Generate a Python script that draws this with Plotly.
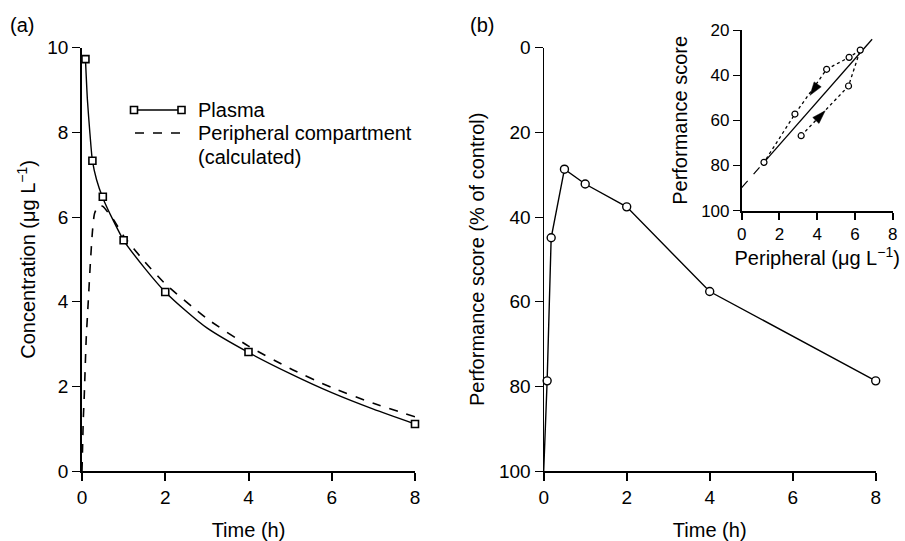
import plotly.graph_objects as go

W, H = 905, 541
FONT = "Liberation Sans, Arial, sans-serif"

# ---------- data ----------
# Panel (a): plasma concentration (observed)
plasma_t = [0.083, 0.25, 0.5, 1, 2, 4, 8]
plasma_c = [9.73, 7.33, 6.48, 5.45, 4.23, 2.81, 1.11]
# Panel (a): fitted plasma curve
fit_t = [0.083, 0.13, 0.19, 0.25, 0.35, 0.5, 0.75, 1, 1.5, 2, 2.5, 3, 4, 5, 6, 7, 8]
fit_c = [9.73, 8.77, 7.98, 7.33, 6.88, 6.45, 5.92, 5.45, 4.8, 4.23, 3.78, 3.38, 2.8, 2.3, 1.85, 1.46, 1.11]
# Panel (a): peripheral compartment (calculated)
per_t = [0, 0.015, 0.03, 0.055, 0.1, 0.15, 0.2, 0.25, 0.3, 0.4, 0.5, 0.75, 1, 1.5, 2, 3, 4, 5, 6, 7, 8]
per_c = [0, 0.6, 1.2, 1.8, 3.1, 4.0, 4.9, 5.65, 6.08, 6.28, 6.25, 5.95, 5.55, 4.95, 4.42, 3.6, 2.95, 2.42, 1.97, 1.6, 1.28]

# Panel (b): performance score (% of control)
b_time = [0, 0.083, 0.18, 0.5, 1, 2, 4, 8]
b_score = [100, 78.7, 44.9, 28.7, 32.2, 37.6, 57.6, 78.7]

# Inset: performance vs peripheral concentration
up_x = [3.15, 5.66, 6.28]                 # rising branch
up_y = [66.8, 44.8, 28.9]
down_x = [6.28, 5.69, 4.5, 2.82, 1.18]    # falling branch
down_y = [28.9, 32.1, 37.4, 57.2, 78.6]
reg_x = [1.18, 6.91]
reg_y = [78.6, 24.1]
ext_x = [0, 1.18]
ext_y = [89.8, 78.6]
# arrowheads on the branches
arrow_x = [3.62, 4.42]
arrow_y = [48.9, 55.8]

ticks_time = [0, 2, 4, 6, 8]
ticks_conc = [0, 2, 4, 6, 8, 10]
ticks_score = [0, 20, 40, 60, 80, 100]
ticks_inset_y = [20, 40, 60, 80, 100]

# ---------- helpers ----------
def pxx(x):
    return x / W

def pxy(y):
    return 1 - y / H

fig = go.Figure()

# panel a
fig.add_trace(go.Scatter(x=per_t, y=per_c, mode="lines",
                         line=dict(color="black", width=1.6, dash="dash", shape="spline", smoothing=0.5),
                         xaxis="x", yaxis="y", showlegend=False, cliponaxis=False))
fig.add_trace(go.Scatter(x=fit_t, y=fit_c, mode="lines",
                         line=dict(color="black", width=1.4, shape="spline", smoothing=0.6),
                         xaxis="x", yaxis="y", showlegend=False, cliponaxis=False))
fig.add_trace(go.Scatter(x=plasma_t, y=plasma_c, mode="markers",
                         marker=dict(symbol="square", size=7, color="white", line=dict(color="black", width=1.6)),
                         xaxis="x", yaxis="y", showlegend=False, cliponaxis=False))

# panel b
fig.add_trace(go.Scatter(x=b_time, y=b_score, mode="lines", line=dict(color="black", width=1.4),
                         xaxis="x2", yaxis="y2", showlegend=False, cliponaxis=False))
fig.add_trace(go.Scatter(x=b_time[1:], y=b_score[1:], mode="markers",
                         marker=dict(symbol="circle", size=8, color="white", line=dict(color="black", width=1.4)),
                         xaxis="x2", yaxis="y2", showlegend=False, cliponaxis=False))

# inset
fig.add_trace(go.Scatter(x=ext_x, y=ext_y, mode="lines", line=dict(color="black", width=1.2, dash="dash"),
                         xaxis="x3", yaxis="y3", showlegend=False, cliponaxis=False))
fig.add_trace(go.Scatter(x=reg_x, y=reg_y, mode="lines", line=dict(color="black", width=1.3),
                         xaxis="x3", yaxis="y3", showlegend=False, cliponaxis=False))
fig.add_trace(go.Scatter(x=up_x, y=up_y, mode="lines", line=dict(color="black", width=1.3, dash="dot"),
                         xaxis="x3", yaxis="y3", showlegend=False, cliponaxis=False))
fig.add_trace(go.Scatter(x=down_x, y=down_y, mode="lines", line=dict(color="black", width=1.3, dash="dot"),
                         xaxis="x3", yaxis="y3", showlegend=False, cliponaxis=False))
fig.add_trace(go.Scatter(x=up_x + down_x[1:], y=up_y + down_y[1:], mode="markers",
                         marker=dict(symbol="circle", size=6, color="white", line=dict(color="black", width=1.2)),
                         xaxis="x3", yaxis="y3", showlegend=False, cliponaxis=False))
fig.add_trace(go.Scatter(x=arrow_x, y=arrow_y, mode="markers",
                         marker=dict(symbol="arrow", size=14, color="black", angle=[215, 44],
                                     line=dict(color="black", width=0.5)),
                         xaxis="x3", yaxis="y3", showlegend=False, cliponaxis=False))

axis_common = dict(showline=True, linecolor="black", ticks="outside", tickcolor="black",
                   showgrid=False, zeroline=False, fixedrange=True, automargin=False,
                   tickfont=dict(family=FONT, size=19, color="black"),
                   title_font=dict(family=FONT, size=20, color="black"))

ybot, ytop = pxy(471), pxy(47.7)

fig.update_layout(
    width=W, height=H, margin=dict(l=0, r=0, t=0, b=0),
    paper_bgcolor="white", plot_bgcolor="white", showlegend=False,
    font=dict(family=FONT, color="black"),
    xaxis=dict(axis_common, domain=[pxx(82), pxx(415)], range=[0, 8], tickvals=ticks_time,
               linewidth=2, tickwidth=2, ticklen=8, anchor="y",
               title=dict(text="Time (h)", standoff=17)),
    yaxis=dict(axis_common, domain=[ybot, ytop], range=[0, 10], tickvals=ticks_conc,
               linewidth=1.6, tickwidth=1, ticklen=8, anchor="x",
               title=dict(text="Concentration (μg L<sup>−1</sup>)", standoff=6)),
    xaxis2=dict(axis_common, domain=[pxx(543.7), pxx(875.7)], range=[0, 8], tickvals=ticks_time,
                linewidth=2, tickwidth=2, ticklen=8, anchor="y2",
                title=dict(text="Time (h)", standoff=17)),
    yaxis2=dict(axis_common, domain=[ybot, ytop], range=[100, 0], tickvals=ticks_score,
                linewidth=1.4, tickwidth=1, ticklen=8, anchor="x2",
                title=dict(text="Performance score (% of control)", standoff=8)),
    xaxis3=dict(axis_common, domain=[pxx(741.7), pxx(892.7)], range=[0, 8], tickvals=ticks_time,
                linewidth=2, tickwidth=2, ticklen=7, anchor="y3",
                tickfont=dict(family=FONT, size=17, color="black"),
                title=dict(text="Peripheral (μg L<sup>−1</sup>)", standoff=7)),
    yaxis3=dict(axis_common, domain=[pxy(210.7), pxy(30)], range=[100, 20], tickvals=ticks_inset_y,
                linewidth=1.6, tickwidth=1, ticklen=7, anchor="x3",
                tickfont=dict(family=FONT, size=17, color="black"),
                title=dict(text="Performance score", standoff=8)),
)

# panel labels
fig.add_annotation(x=pxx(8), y=pxy(25), xref="paper", yref="paper", text="(a)", showarrow=False,
                   xanchor="left", yanchor="middle", font=dict(family=FONT, size=20, color="black"))
fig.add_annotation(x=pxx(468), y=pxy(25), xref="paper", yref="paper", text="(b)", showarrow=False,
                   xanchor="left", yanchor="middle", font=dict(family=FONT, size=20, color="black"))

# custom legend for panel (a)
fig.add_shape(type="line", xref="paper", yref="paper", x0=pxx(134), x1=pxx(181.5), y0=pxy(110), y1=pxy(110),
              line=dict(color="black", width=1.4))
for cx in (134, 181.5):
    fig.add_shape(type="rect", xref="paper", yref="paper", x0=pxx(cx - 3.5), x1=pxx(cx + 3.5),
                  y0=pxy(110 + 3.5), y1=pxy(110 - 3.5), line=dict(color="black", width=1.6), fillcolor="white")
fig.add_shape(type="line", xref="paper", yref="paper", x0=pxx(135), x1=pxx(180), y0=pxy(133), y1=pxy(133),
              line=dict(color="black", width=1.6, dash="dash"))
leg_font = dict(family=FONT, size=20, color="black")
fig.add_annotation(x=pxx(196), y=pxy(110), xref="paper", yref="paper", text="Plasma", showarrow=False,
                   xanchor="left", yanchor="middle", font=leg_font)
fig.add_annotation(x=pxx(196), y=pxy(133), xref="paper", yref="paper", text="Peripheral compartment",
                   showarrow=False, xanchor="left", yanchor="middle", font=leg_font)
fig.add_annotation(x=pxx(196), y=pxy(157), xref="paper", yref="paper", text="(calculated)", showarrow=False,
                   xanchor="left", yanchor="middle", font=leg_font)

fig.write_html("out.html")
